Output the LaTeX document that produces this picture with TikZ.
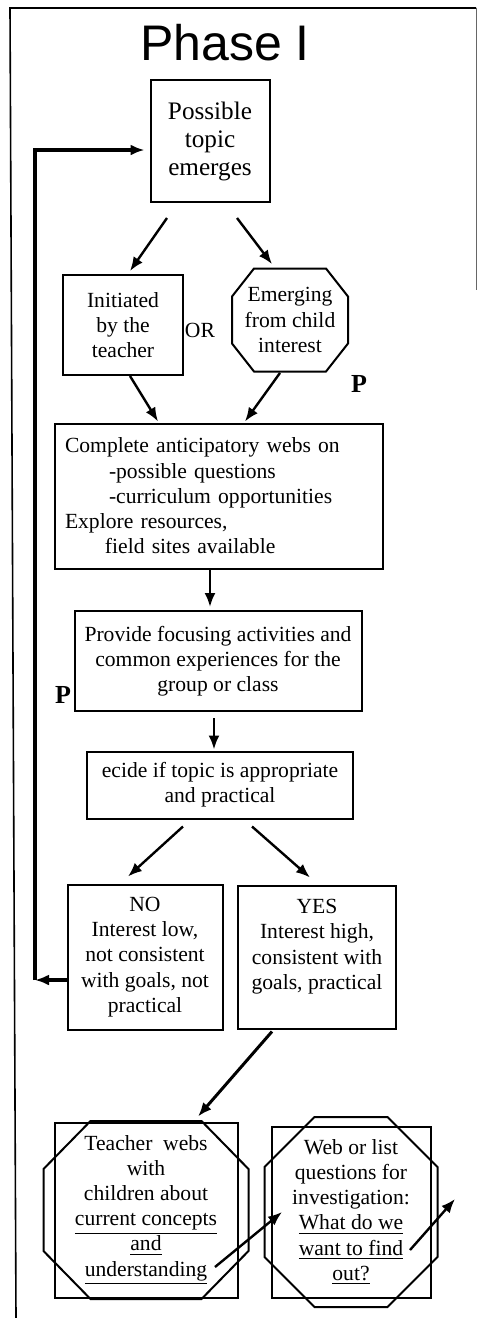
\documentclass[tikz,border=0pt]{standalone}
\usepackage{fontspec}
\setmainfont{Liberation Serif}
\newfontfamily\headfont{Liberation Sans}
\usetikzlibrary{arrows.meta}
\newcommand{\bodyfont}{\fontsize{10.8}{12.6}\selectfont}
% octagon round a node: centre, half width, half height, cut x, cut y
\newcommand{\octagon}[5]{%
  \draw[line width=1pt] ([shift={(-#2+#4,-#3)}]#1.center) -- ([shift={(#2-#4,-#3)}]#1.center)
    -- ([shift={(#2,-#3+#5)}]#1.center) -- ([shift={(#2,#3-#5)}]#1.center)
    -- ([shift={(#2-#4,#3)}]#1.center) -- ([shift={(-#2+#4,#3)}]#1.center)
    -- ([shift={(-#2,#3-#5)}]#1.center) -- ([shift={(-#2,-#3+#5)}]#1.center) -- cycle;}
\begin{document}
\begin{tikzpicture}[x=0.5pt,y=-0.5pt,
    box/.style={draw,line width=1pt,align=center,inner sep=2pt,font=\bodyfont},
    arr/.style={-{Latex[length=7pt,width=5.5pt]},line width=1.2pt}]
    \useasboundingbox (0,0) rectangle (478,1318);
    %% frame
    \draw[line width=0.8pt] (16,1318) -- (10,8) -- (476,8);
    \draw[line width=0.4pt,black!60] (476,8) -- (476,290);
    \node[font=\headfont\fontsize{25}{30}\selectfont] (title) at (225,43) {Phase I};
    %% topic
    \node[box,font=\fontsize{12.6}{14}\selectfont,minimum width=59.5pt,minimum height=61pt] (topic) at (210,141) {Possible\\topic\\emerges};
    \node[box,minimum width=60pt,minimum height=50pt] (init) at (123,325) {Initiated\\by the\\teacher};
    \node[font=\bodyfont,align=center,inner sep=0pt,minimum width=58pt,minimum height=51.5pt] (emerge) at (290,320) {Emerging\\from child\\interest};
    \octagon{emerge}{58}{51.5}{22}{28}
    \node[font=\bodyfont] (or) at (200,330) {OR};
    \node[font=\bfseries\fontsize{13}{15}\selectfont] (p1) at (359,384) {P};
    %% webs and resources
    \node[box,align=left,inner sep=5pt,text width=154pt,minimum height=72.5pt] (complete) at (219,496) {Complete anticipatory webs on\\
        \hspace*{22pt}-possible questions\\
        \hspace*{22pt}-curriculum opportunities\\
        Explore resources,\\
        \hspace*{20pt}field sites available};
    \node[box,minimum width=143.5pt,minimum height=50pt] (provide) at (218,661) {Provide focusing activities and\\common experiences for the\\group or class};
    \node[font=\bfseries\fontsize{13}{15}\selectfont] (p2) at (63,695) {P};
    \node[box,minimum width=133pt,minimum height=33.5pt] (decide) at (220,785) {ecide if topic is appropriate\\and practical};
    %% decision
    \node[box,minimum width=77.5pt,minimum height=72.5pt] (no) at (145,957) {NO\\Interest low,\\not consistent\\with goals, not\\practical};
    \node[box,minimum width=79pt,minimum height=71.5pt] (yes) at (317,957) {YES\\Interest high,\\consistent with\\goals, practical\\\mbox{}};
    %% webbing with the children
    \node[box,minimum width=91.5pt,minimum height=87.5pt] (webs) at (146,1210) {Teacher~ webs\\with\\children about\\\underline{current concepts}\\\underline{and}\\\underline{understanding}};
    \octagon{webs}{102.5}{89}{47}{48}
    \node[box,minimum width=79.5pt,minimum height=85.5pt] (quest) at (351,1212) {Web or list\\questions for\\investigation:\\\underline{What do we}\\\underline{want to find}\\\underline{out?}};
    \octagon{quest}{86.5}{95}{50}{50}
    %% arrows
    \draw[arr] ([shift={(-43,15)}]topic.south) -- ([shift={(7,-3)}]init.north);
    \draw[arr] ([shift={(27,15)}]topic.south) -- ([shift={(-18,-4)}]emerge.north);
    \draw[arr] ([shift={(7,0)}]init.south) -- ([shift={(-61,-1)}]complete.north);
    \draw[arr] ([shift={(-10,1)}]emerge.south) -- ([shift={(26,-1)}]complete.north);
    \draw[arr] ([shift={(-9,0)}]complete.south) -- ([shift={(-8,-3)}]provide.north);
    \draw[arr] ([shift={(-4,6)}]provide.south) -- ([shift={(-6,-1)}]decide.north);
    \draw[arr] ([shift={(-37,7)}]decide.south) -- ([shift={(-17,-7)}]no.north);
    \draw[arr] ([shift={(32,7)}]decide.south) -- ([shift={(-7,-7)}]yes.north);
    \draw[arr,line width=1.5pt] ([shift={(-45,2)}]yes.south) -- ([shift={(52,-5)}]webs.north);
    \draw[arr] ([shift={(69,57)}]webs.center) -- ([shift={(-69,0)}]quest.center);
    \coordinate (out) at (455,1199);
    \draw[arr] ([shift={(59,38)}]quest.center) -- (out);
    %% back to the start
    \coordinate (loop) at (35,980);
    \draw[arr,line width=1.8pt] ([yshift=-11.5pt]no.west) -- (loop);
    \draw[arr,line width=1.8pt] (loop) |- ([shift={(-5,9)}]topic.west);
\end{tikzpicture}
\end{document}
